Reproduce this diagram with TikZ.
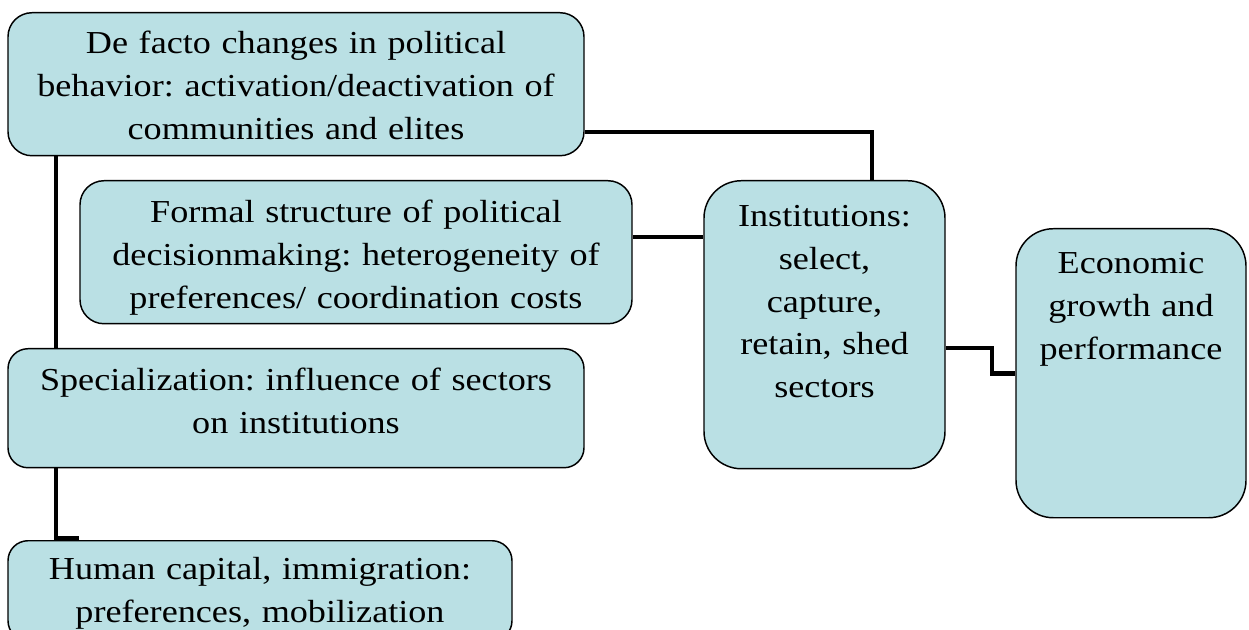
\documentclass[tikz,border=0pt]{standalone}
\usepackage{fontspec}
\setmainfont{Liberation Serif}[FakeStretch=1.13]
\frenchspacing
\definecolor{boxfill}{RGB}{186,224,228}
\tikzset{
  cell/.style={draw, line width=1.1pt, fill=boxfill, anchor=north, align=center,
    inner xsep=4pt, inner ysep=0pt, font=\fontsize{24}{32}\selectfont},
  link/.style={line width=3.6pt}
}

\begin{document}
\begin{tikzpicture}[x=0.75pt,y=-0.75pt]
    \useasboundingbox (0,0) rectangle (1249,630);
    \clip (0,0) rectangle (1249,630);

    % Draw the boxes
    \node[cell, rounded corners=18pt, text width=424pt, text height=30.75pt, text depth=76.5pt]
      (facto) at (296,12) {De facto changes in political\\behavior: activation/deactivation of\\communities and elites};
    \node[cell, rounded corners=18pt, text width=406pt, text height=31.5pt, text depth=75.75pt]
      (formal) at (356,180) {Formal structure of political\\decisionmaking: heterogeneity of\\preferences/ coordination costs};
    \node[cell, rounded corners=15pt, text width=424pt, text height=31.5pt, text depth=57.75pt]
      (special) at (296,348) {Specialization: influence of sectors\\on institutions};
    \node[cell, rounded corners=15pt, text width=370pt, text height=29.25pt, text depth=45.75pt]
      (human) at (260,540) {Human capital, immigration:\\preferences, mobilization};
    \node[cell, rounded corners=28pt, text width=172.75pt, text height=34.5pt, text depth=181.5pt]
      (inst) at (824.5,180) {Institutions:\\select,\\capture,\\retain, shed\\sectors};
    \node[cell, rounded corners=28pt, text width=164.5pt, text height=33.75pt, text depth=183pt]
      (econ) at (1131,228) {Economic\\growth and\\performance};

    % points for the elbows
    \coordinate (spine) at (56,0);
    \coordinate (elbow) at (872,132);
    \coordinate (row) at (0,237);
    \coordinate (outrow) at (0,348);
    \coordinate (jog) at (992,0);

    % draw the connectors
    \draw[link] (spine |- facto.south) -- (spine |- special.north);
    \draw[link] (spine |- special.south) -- ([yshift=1.5pt]spine |- human.north) -- ++(23,0);
    \draw[link] (elbow -| facto.east) -- (elbow) -- (elbow |- inst.north);
    \draw[link] (formal.east |- row) -- (inst.west |- row);
    \draw[link] (inst.east |- outrow) -- (jog |- outrow) -- (jog |- econ.west) -- (econ.west);
\end{tikzpicture}
\end{document}
